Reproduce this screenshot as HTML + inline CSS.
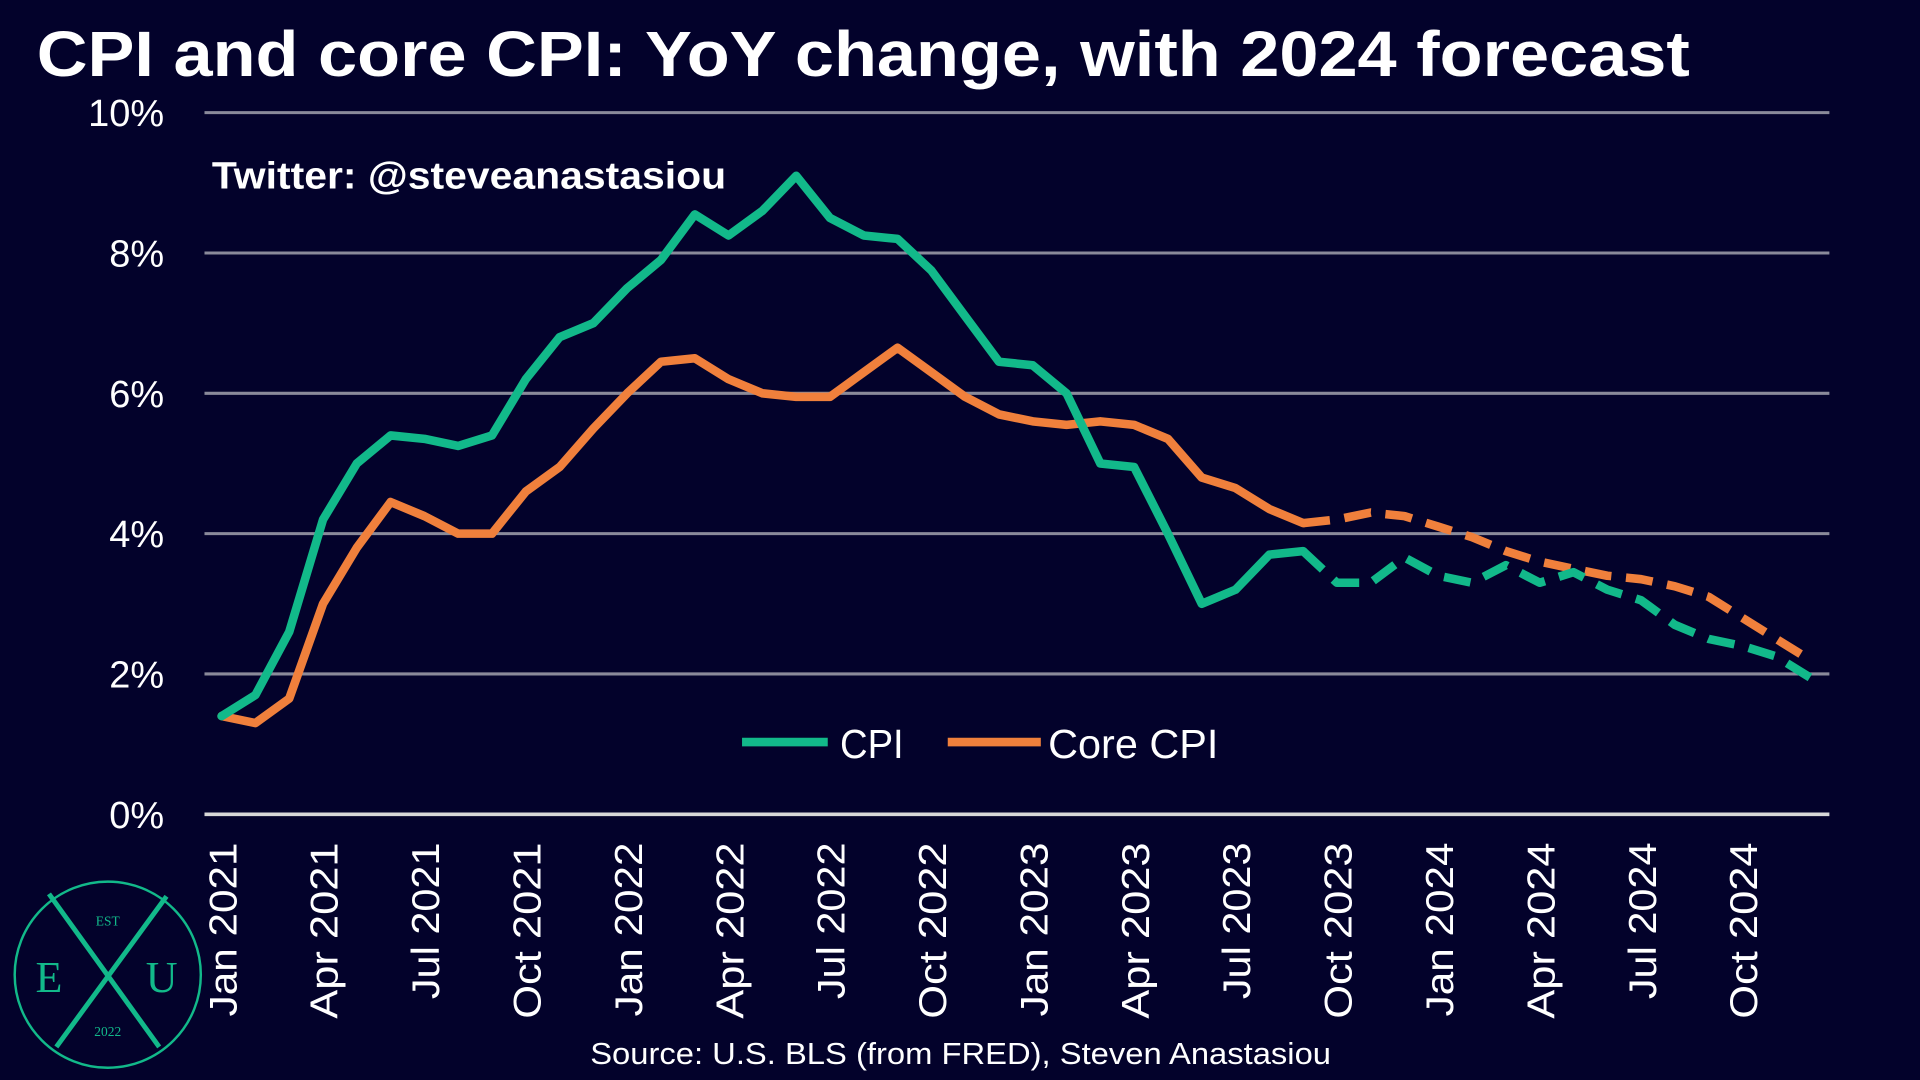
<!DOCTYPE html>
<html><head><meta charset="utf-8"><style>
html,body{margin:0;padding:0;background:#03022b;}
svg{display:block;font-family:"Liberation Sans",sans-serif;}
</style></head><body>
<svg id="chart" width="1920" height="1080" viewBox="0 0 1568 882" xmlns="http://www.w3.org/2000/svg">
<rect width="1568" height="882" fill="#03022b"/>
<text x="30" y="62" fill="#fff" font-size="52" font-weight="bold" textLength="1350" lengthAdjust="spacingAndGlyphs">CPI and core CPI: YoY change, with 2024 forecast</text>
<g id="grid"></g>
<g id="yticks"></g>
<g id="xticks"></g>
<text x="173" y="154" fill="#fff" font-size="31" font-weight="bold" textLength="420" lengthAdjust="spacingAndGlyphs">Twitter: @steveanastasiou</text>
<g id="series"></g>
<g>
<line x1="606" y1="606" x2="676" y2="606" stroke="#12b98a" stroke-width="7"/>
<text x="686" y="619" fill="#fff" font-size="33" textLength="52" lengthAdjust="spacingAndGlyphs">CPI</text>
<line x1="774" y1="606" x2="850" y2="606" stroke="#f0803c" stroke-width="7"/>
<text x="856" y="619" fill="#fff" font-size="33" textLength="139" lengthAdjust="spacingAndGlyphs">Core CPI</text>
</g>
<text x="482" y="869" fill="#fff" font-size="25" textLength="605" lengthAdjust="spacingAndGlyphs">Source: U.S. BLS (from FRED), Steven Anastasiou</text>
<g font-family="Liberation Serif, serif">
<circle cx="88" cy="796" r="76" fill="none" stroke="#12b98a" stroke-width="2"/>
<line x1="40" y1="730" x2="130" y2="855" stroke="#12b98a" stroke-width="4"/>
<line x1="136" y1="732" x2="46" y2="855" stroke="#12b98a" stroke-width="4"/>
<text x="40" y="810" fill="#12b98a" font-size="36" text-anchor="middle">E</text>
<text x="132" y="810" fill="#12b98a" font-size="36" text-anchor="middle">U</text>
<text x="88" y="756" fill="#12b98a" font-size="11" text-anchor="middle">EST</text>
<text x="88" y="846" fill="#12b98a" font-size="11" text-anchor="middle">2022</text>
</g>
</svg>
<script>
const yTicks=[0,2,4,6,8,10];
const xLabels=["Jan 2021","Apr 2021","Jul 2021","Oct 2021","Jan 2022","Apr 2022","Jul 2022","Oct 2022","Jan 2023","Apr 2023","Jul 2023","Oct 2023","Jan 2024","Apr 2024","Jul 2024","Oct 2024"];
const cpiActual=[1.4,1.7,2.6,4.2,5.0,5.4,5.35,5.25,5.4,6.2,6.8,7.0,7.5,7.9,8.55,8.25,8.6,9.1,8.5,8.25,8.2,7.75,7.1,6.45,6.4,6.0,5.0,4.95,4.0,3.0,3.2,3.7,3.75];
const cpiForecast=[3.75,3.3,3.3,3.66,3.4,3.3,3.55,3.3,3.45,3.2,3.05,2.7,2.5,2.4,2.25,1.95];
const coreActual=[1.4,1.3,1.65,3.0,3.8,4.45,4.25,4.0,4.0,4.6,4.95,5.5,6.0,6.45,6.5,6.2,6.0,5.95,5.95,6.3,6.65,6.3,5.95,5.7,5.6,5.55,5.6,5.55,5.35,4.8,4.65,4.35,4.15];
const coreForecast=[4.15,4.2,4.3,4.25,4.1,3.95,3.75,3.6,3.5,3.4,3.35,3.25,3.1,2.8,2.5,2.2];
const NS="http://www.w3.org/2000/svg";
const x=m=>181+m*27.6;
const y=v=>665-v*57.3;
function mk(tag,attrs,parent){const e=document.createElementNS(NS,tag);for(const k in attrs)e.setAttribute(k,attrs[k]);document.getElementById(parent).appendChild(e);return e;}
yTicks.forEach(v=>{
  const g=mk('line',{x1:167,x2:1494,y1:y(v),y2:y(v),stroke:v===0?'#d8d8d8':'#8a8a9a','stroke-width':v===0?3:2.5},'grid');
  
  
  const t=mk('text',{x:134,y:y(v)+11,fill:'#fff','font-size':31,'text-anchor':'end'},'yticks');
  t.textContent=v+'%';
  
  
});
xLabels.forEach((l,i)=>{
  const xx=x(i*3)+12;
  const len=l.startsWith('Jul')?128:(l.startsWith('Jan')?142:144);
  const t=mk('text',{x:0,y:0,fill:'#fff','font-size':32,'text-anchor':'end',textLength:len,lengthAdjust:'spacingAndGlyphs',transform:`translate(${xx},688) rotate(-90)`},'xticks');
  t.textContent=l;
  
  
});
function line(vals,start,color,dash,name){
  const d=vals.map((v,i)=>(i?'L':'M')+x(start+i).toFixed(1)+' '+y(v).toFixed(1)).join(' ');
  const p=mk('path',{d:d,fill:'none',stroke:color,'stroke-width':7,'stroke-linejoin':'round','stroke-linecap':dash?'butt':'round'},'series');
  if(dash)p.setAttribute('stroke-dasharray','22 12');
  
  
}
line(coreActual,0,'#f0803c',false,'core-cpi-line');
line(cpiActual,0,'#12b98a',false,'cpi-line');
line(coreForecast,32,'#f0803c',true,'core-cpi-forecast-line');
line(cpiForecast,32,'#12b98a',true,'cpi-forecast-line');
</script>
</body></html>
